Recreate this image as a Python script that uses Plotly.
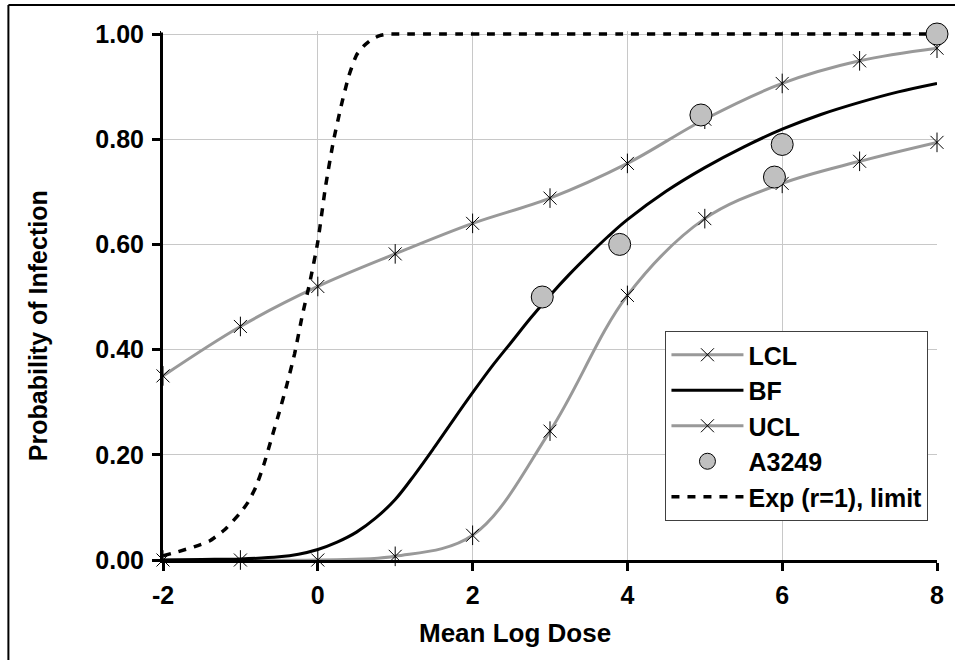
import plotly.graph_objects as go

# ---- data ----
dose_pts = [-2, -1, 0, 1, 2, 3, 4, 5, 6, 7, 8]
lcl_vals = [0.0, 0.0, 0.0, 0.007, 0.047, 0.245, 0.503, 0.649, 0.716, 0.758, 0.794]
ucl_vals = [0.350, 0.444, 0.520, 0.582, 0.640, 0.688, 0.754, 0.838, 0.906, 0.949, 0.973]

bf_x = [-2, -1.5, -1, -0.5, -0.25, 0, 0.25, 0.5, 0.75, 1.0, 1.25, 1.5, 1.75, 2.0, 2.25, 2.5,
        2.75, 3.0, 3.25, 3.5, 3.75, 4.0, 4.5, 5.0, 5.5, 6.0, 6.5, 7.0, 7.5, 8.0]
bf_y = [0.0, 0.001, 0.002, 0.006, 0.011, 0.02, 0.034, 0.053, 0.08, 0.115, 0.162, 0.213, 0.266,
        0.318, 0.368, 0.414, 0.46, 0.503, 0.543, 0.58, 0.615, 0.647, 0.701, 0.746, 0.785,
        0.819, 0.847, 0.870, 0.890, 0.906]

exp_x = [-2, -1.8, -1.6, -1.4, -1.2, -1.0, -0.9, -0.8, -0.7, -0.6, -0.5, -0.4, -0.3, -0.2, -0.1,
         0.0, 0.1, 0.2, 0.3, 0.4, 0.5, 0.6, 0.7, 0.8, 0.9, 1.0, 8.0]
exp_y = [0.008, 0.016, 0.025, 0.036, 0.058, 0.09, 0.11, 0.139, 0.18, 0.23, 0.28, 0.333, 0.392,
         0.465, 0.53, 0.605, 0.71, 0.795, 0.862, 0.92, 0.96, 0.978, 0.99, 0.997, 1.0, 1.0, 1.0]

obs_x = [2.9, 3.9, 4.95, 5.9, 6.0, 8.0]
obs_y = [0.50, 0.60, 0.846, 0.728, 0.790, 1.0]

x_ticks = [-2, 0, 2, 4, 6, 8]
x_ticktext = ["-2", "0", "2", "4", "6", "8"]
y_ticks = [0.0, 0.2, 0.4, 0.6, 0.8, 1.0]

GRAY = "#999999"
FONT = "Liberation Sans, Arial, sans-serif"

fig = go.Figure()

star_marker = dict(symbol="x-thin-open", size=13, color="black",
                   line=dict(color="black", width=1))
vbar_marker = dict(symbol="line-ns-open", size=14, color="black",
                   line=dict(color="black", width=1))

# LCL
fig.add_trace(go.Scatter(x=dose_pts, y=lcl_vals, name="LCL", mode="lines+markers",
                         line=dict(color=GRAY, width=3, shape="spline", smoothing=1.0),
                         marker=star_marker, cliponaxis=False, legendrank=1))
fig.add_trace(go.Scatter(x=dose_pts, y=lcl_vals, mode="markers", showlegend=False,
                         marker=vbar_marker, cliponaxis=False, hoverinfo="skip"))
# BF
fig.add_trace(go.Scatter(x=bf_x, y=bf_y, name="BF", mode="lines",
                         line=dict(color="black", width=3, shape="spline", smoothing=1.0),
                         legendrank=2))
# UCL
fig.add_trace(go.Scatter(x=dose_pts, y=ucl_vals, name="UCL", mode="lines+markers",
                         line=dict(color=GRAY, width=3, shape="spline", smoothing=1.0),
                         marker=star_marker, cliponaxis=False, legendrank=3))
fig.add_trace(go.Scatter(x=dose_pts, y=ucl_vals, mode="markers", showlegend=False,
                         marker=vbar_marker, cliponaxis=False, hoverinfo="skip"))
# Exp limit (drawn before the observed points, listed last in legend)
fig.add_trace(go.Scatter(x=exp_x, y=exp_y, name="Exp (r=1), limit", mode="lines",
                         line=dict(color="black", width=3.5, dash="8px,8px", shape="spline",
                                   smoothing=0.5),
                         cliponaxis=False, legendrank=5))
# Observed
fig.add_trace(go.Scatter(x=obs_x, y=obs_y, name="A3249", mode="markers",
                         marker=dict(symbol="circle", size=22, color="#c0c0c0",
                                     line=dict(color="black", width=1)),
                         cliponaxis=False, legendrank=4))

W, H = 955, 660
L, R, B = 163, 11, 100
PX_PER_UNIT = 526          # pixels per probability unit (0 -> y=560, 1 -> y=34)
T = 31                     # a few px of headroom so the y=1 line is not clipped
pw = W - L - R
ph = H - T - B
y_top = ph / PX_PER_UNIT


def px_x(p):
    return (p - L) / pw


def px_y(p):
    return (H - B - p) / ph


axis_common = dict(
    showgrid=True, gridcolor="#c8c8c8", gridwidth=1, zeroline=False,
    showline=True, linecolor="black", linewidth=3,
    ticks="outside", ticklen=8, tickwidth=3, tickcolor="black",
    tickfont=dict(family=FONT, size=25, color="black", weight="bold"),
)

fig.update_layout(
    width=W, height=H,
    margin=dict(l=L, r=R, t=T, b=B, pad=0),
    paper_bgcolor="white", plot_bgcolor="white",
    xaxis=dict(range=[-2, 8], tickvals=x_ticks, ticktext=x_ticktext, ticklabelstandoff=3,
               **axis_common),
    yaxis=dict(range=[0, y_top], tickvals=y_ticks, tickformat=".2f", ticklabelstandoff=3,
               **axis_common),
    legend=dict(x=px_x(670), y=px_y(331), xanchor="left", yanchor="top",
                bgcolor="white", bordercolor="#404040", borderwidth=1,
                font=dict(family=FONT, size=25, color="black", weight="bold"),
                itemwidth=72, traceorder="normal"),
    showlegend=True,
    annotations=[
        dict(text="Probability of Infection", x=px_x(37), y=px_y(326), xref="paper", yref="paper",
             textangle=-90, showarrow=False, xanchor="center", yanchor="middle",
             font=dict(family=FONT, size=25, color="black", weight="bold")),
        dict(text="Mean Log Dose", x=px_x(518), y=px_y(633), xref="paper", yref="paper",
             showarrow=False, xanchor="center", yanchor="middle",
             font=dict(family=FONT, size=26, color="black", weight="bold")),
    ],
    shapes=[
        dict(type="line", xref="paper", yref="paper", x0=px_x(7), x1=px_x(7),
             y0=px_y(670), y1=px_y(5), line=dict(color="black", width=2)),
        dict(type="line", xref="paper", yref="paper", x0=px_x(7), x1=px_x(970),
             y0=px_y(5), y1=px_y(5), line=dict(color="black", width=2)),
        # cover the tiny axis-line stub above the 1.00 tick
        dict(type="line", xref="paper", yref="paper", x0=px_x(163), x1=px_x(163),
             y0=px_y(32.5), y1=1.0, line=dict(color="white", width=4)),
    ],
)

fig.write_html("out.html")
